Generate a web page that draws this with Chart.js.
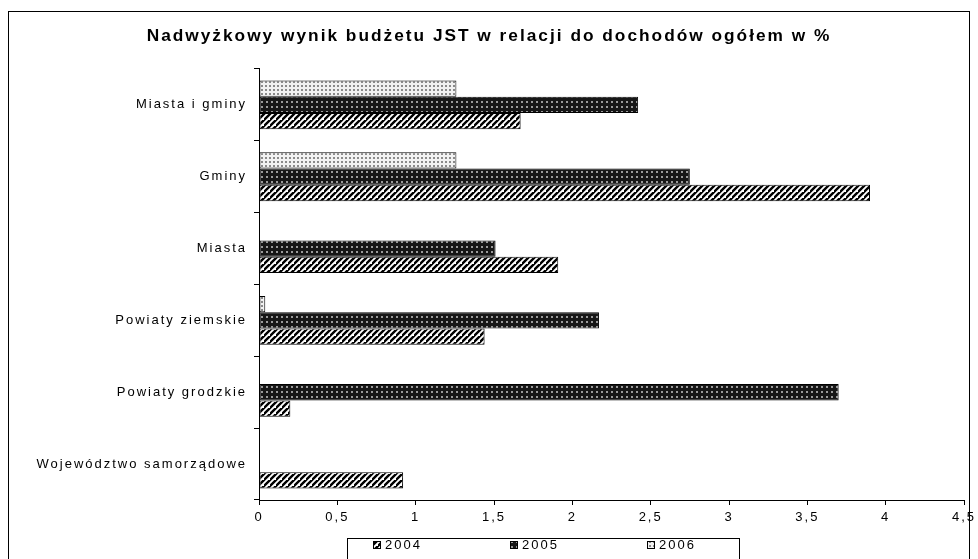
<!DOCTYPE html>
<html>
<head>
<meta charset="utf-8">
<script src="https://cdn.jsdelivr.net/npm/chart.js@4.4.1/dist/chart.umd.min.js"></script>
<style>
  html, body { margin: 0; padding: 0; background: #fff; }
  canvas { display: block; }
</style>
</head>
<body>
<canvas id="surplusChart" width="978" height="559"></canvas>
<script>
// Data
const categories = ['Miasta i gminy', 'Gminy', 'Miasta', 'Powiaty ziemskie', 'Powiaty grodzkie', 'Województwo samorządowe'];
const years = ['2004', '2005', '2006'];
const values2004 = [1.67, 3.90, 1.91, 1.44, 0.20, 0.92];
const values2005 = [2.42, 2.75, 1.51, 2.17, 3.70, 0];
const values2006 = [1.26, 1.26, 0, 0.04, 0, 0];
const xTicks = [0, 0.5, 1, 1.5, 2, 2.5, 3, 3.5, 4, 4.5];

const FONT = '"Liberation Sans", Arial, sans-serif';
// the old Excel export spreads its letters out
const SPACING = '2px';

// --- Fill patterns that mimic the old Excel black & white fills ---
function makePattern(size, paint) {
    const c = document.createElement('canvas');
    c.width = size;
    c.height = size;
    paint(c.getContext('2d'), size);
    return document.createElement('canvas').getContext('2d').createPattern(c, 'repeat');
}

// 2004: diagonal stripes
const hatch = makePattern(6, (g, s) => {
    g.fillStyle = '#fff';
    g.fillRect(0, 0, s, s);
    g.strokeStyle = '#000';
    g.lineWidth = 2.4;
    g.beginPath();
    g.moveTo(-1, s + 1); g.lineTo(s + 1, -1);
    g.moveTo(-s - 1, s + 1); g.lineTo(1, -1);
    g.moveTo(s - 1, 2 * s + 1); g.lineTo(2 * s + 1, s - 1);
    g.stroke();
});

// 2005: dark with light dots
const darkDots = makePattern(5, (g, s) => {
    g.fillStyle = '#161616';
    g.fillRect(0, 0, s, s);
    g.fillStyle = '#9a9a9a';
    g.fillRect(1, 1, 2, 2);
});

// 2006: light with grey dots
const lightDots = makePattern(4, (g, s) => {
    g.fillStyle = '#f2f2f2';
    g.fillRect(0, 0, s, s);
    g.fillStyle = '#8a8a8a';
    g.fillRect(1, 1, 2, 2);
});

const fills = { '2004': hatch, '2005': darkDots, '2006': lightDots };

// Frame around the whole chart and the boxed legend at the bottom
const framePlugin = {
    id: 'frame',
    beforeDraw(chart) {
        chart.ctx.letterSpacing = SPACING;
    },
    afterDraw(chart) {
        const ctx = chart.ctx;
        ctx.save();
        ctx.strokeStyle = '#000';
        ctx.lineWidth = 1;
        ctx.strokeRect(8.5, 11.5, 961, 600);

        // legend box
        ctx.strokeRect(347.5, 538.5, 392, 60);
        ctx.font = '13px ' + FONT;
        ctx.textBaseline = 'middle';
        ctx.textAlign = 'left';
        ctx.letterSpacing = SPACING;
        const order = chart.data.datasets.slice().reverse();
        order.forEach((ds, i) => {
            const x = 373 + i * 137;
            ctx.fillStyle = ds.backgroundColor;
            ctx.fillRect(x, 541, 7, 7);
            ctx.strokeStyle = '#000';
            ctx.strokeRect(x + 0.5, 541.5, 7, 7);
            ctx.fillStyle = '#000';
            ctx.fillText(ds.label, x + 12, 545);
        });
        ctx.restore();
    }
};

const datasets = [
    { label: years[2], data: values2006 },
    { label: years[1], data: values2005 },
    { label: years[0], data: values2004 }
].map(ds => Object.assign(ds, {
    backgroundColor: fills[ds.label],
    borderColor: '#000',
    borderWidth: 1,
    borderSkipped: false,
    categoryPercentage: 0.68,
    barPercentage: 1.0
}));

new Chart(document.getElementById('surplusChart').getContext('2d'), {
    type: 'bar',
    data: { labels: categories, datasets: datasets },
    options: {
        indexAxis: 'y',
        responsive: false,
        animation: false,
        layout: { padding: { left: 0, right: 0, top: 0, bottom: 29 } },
        plugins: {
            legend: { display: false },
            tooltip: { enabled: false },
            title: {
                display: true,
                text: 'Nadwyżkowy wynik budżetu JST w relacji do dochodów ogółem w %',
                color: '#000',
                font: { family: FONT, size: 17.3, weight: 'bold', lineHeight: 1.2 },
                padding: { top: 26, bottom: 22.2 }
            }
        },
        scales: {
            x: {
                min: 0,
                max: 4.5,
                afterBuildTicks(scale) {
                    scale.ticks = xTicks.map(v => ({ value: v }));
                },
                afterFit(scale) {
                    scale.height = 30;
                    scale.paddingLeft = 0;
                    scale.paddingRight = 14;
                },
                border: { display: true, color: '#000', width: 1 },
                grid: { display: true, drawOnChartArea: false, drawTicks: true, tickLength: 5, color: '#000' },
                ticks: {
                    color: '#000',
                    padding: 5,
                    font: { family: FONT, size: 13 },
                    callback: v => String(v).replace('.', ',')
                }
            },
            y: {
                afterFit(scale) { scale.width = 259; },
                border: { display: true, color: '#000', width: 1 },
                grid: { display: true, drawOnChartArea: false, drawTicks: true, tickLength: 5, color: '#000' },
                ticks: {
                    color: '#000',
                    padding: 7,
                    font: { family: FONT, size: 13 }
                }
            }
        }
    },
    plugins: [framePlugin]
});
</script>
</body>
</html>
